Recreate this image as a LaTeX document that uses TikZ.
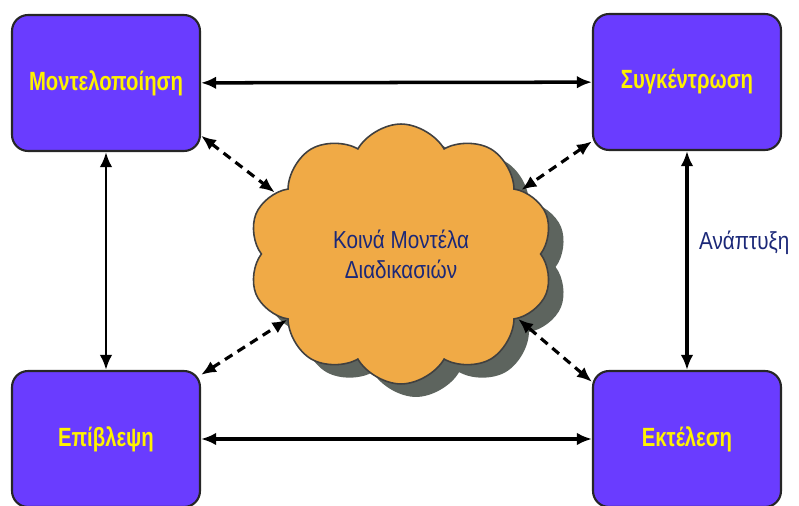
\documentclass[tikz,border=0pt]{standalone}
\usepackage{fontspec}
\setmainfont{Liberation Sans}[FakeStretch=0.84]
\newfontfamily\boxfont{Liberation Sans}[FakeStretch=0.77]
\usetikzlibrary{shapes.symbols, shadows, arrows.meta, positioning}

\definecolor{boxfill}{HTML}{6A3CFF}
\definecolor{cloudfill}{HTML}{F0AA46}
\definecolor{cloudshadow}{HTML}{5D645E}
\definecolor{labelblue}{HTML}{1B2878}

\begin{document}
\begin{tikzpicture}[
    x=0.02cm, y=-0.02cm,
    box/.style={rectangle, rounded corners=0.32cm, draw=black!85, line width=1.2pt, fill=boxfill,
      minimum width=3.76cm, minimum height=2.72cm, text=yellow, font=\boxfont\bfseries\fontsize{15}{18}\selectfont},
    pool/.style={cloud, cloud puffs=10, cloud puff arc=120, aspect=1.15, draw=black!75, line width=0.9pt,
      fill=cloudfill, minimum width=6.1cm, minimum height=5.2cm, align=center, text=labelblue,
      font=\fontsize{14}{17}\selectfont,
      drop shadow={shadow xshift=0.3cm, shadow yshift=-0.26cm, fill=cloudshadow, opacity=1}},
    arrow/.style={Latex-Latex, line width=2pt, arrows={[length=0.3cm, width=0.25cm]}},
    dasharrow/.style={arrow, line width=1.8pt, dash pattern=on 5pt off 3.5pt}
  ]
    \useasboundingbox (0,0) rectangle (799,506);

    \node[box] (model) at (106,83) {Μοντελοποίηση};
    \node[box] (gather) at (687,82) {Συγκέντρωση};
    \node[box] (watch) at (106,439) {Επίβλεψη};
    \node[box] (run) at (687,439) {Εκτέλεση};
    \node[pool] (common) at (401,254) {Κοινά Μοντέλα\\Διαδικασιών};
    \node[text=labelblue, font=\fontsize{14}{17}\selectfont, anchor=west] (dev) at (693,243) {Ανάπτυξη};

    % solid links between the boxes
    \draw[arrow] (model) -- (gather);
    \draw[arrow] (watch) -- (run);
    \draw[arrow, line width=1.6pt] (model) -- (watch);
    \draw[arrow] (gather) -- (run);

    % dashed links to the cloud
    \draw[dasharrow] (model.-29) -- (common.154);
    \draw[dasharrow] (gather.212) -- (common.28);
    \draw[dasharrow] (watch.34) -- (common.210);
    \draw[dasharrow] (run.149) -- (common.331);
  \end{tikzpicture}
\end{document}
